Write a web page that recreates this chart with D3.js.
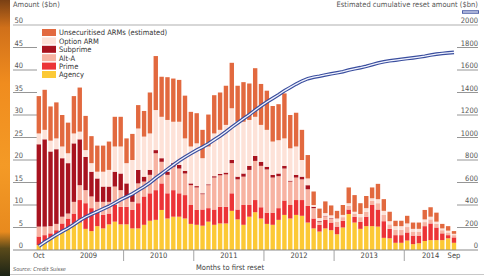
<!DOCTYPE html>
<html><head><meta charset="utf-8">
<script src="https://cdn.jsdelivr.net/npm/d3@7"></script>
<style>
html,body{margin:0;padding:0;background:#fff;overflow:hidden;}
svg{display:block;font-family:"Liberation Sans Narrow","DejaVu Sans Condensed","Liberation Sans",Arial,sans-serif;}
</style></head><body>
<svg id="c" width="484" height="276"></svg>
<script>
// ---- categories: months to first reset, Oct 2008 .. Sep 2014
const months = d3.timeMonth.range(new Date(2008, 9, 1), new Date(2014, 9, 1)).map(d3.timeFormat("%Y-%m"));

// ---- series (amount, $bn) ----
const agency = [1.1,1.9,2.6,3.3,4.1,4.8,5.6,6.1,4.7,4.2,5.3,4.8,5.7,6.3,5.7,5.7,4.8,4.8,5.6,6.5,6.7,8.9,7.0,7.4,
  7.4,7.0,5.8,5.6,5.4,6.3,5.6,5.9,5.9,8.7,6.8,5.6,7.4,8.4,7.0,5.8,5.6,6.7,7.8,7.0,7.8,7.6,6.1,4.8,4.1,
  4.8,4.4,3.5,5.0,8.0,6.1,4.7,5.3,5.3,5.2,2.7,2.6,1.6,1.6,2.1,1.3,1.5,2.0,2.2,2.2,2.2,2.6,1.6];
const prime = [1.9,1.4,1.1,1.1,1.8,2.2,2.5,5.0,5.7,5.1,3.6,3.0,2.4,3.7,3.9,3.9,4.1,5.6,6.3,6.1,6.6,5.9,5.6,5.9,
  5.2,5.2,4.2,3.3,3.6,3.0,3.4,3.7,3.7,3.9,2.2,4.4,2.6,2.7,2.5,2.5,2.7,2.6,3.2,3.0,3.3,3.5,3.7,2.2,1.5,
  1.9,1.7,1.7,1.5,1.0,1.3,1.6,2.1,4.7,3.8,3.7,2.1,1.7,1.7,1.8,1.9,1.7,3.3,3.7,2.8,1.5,0.7,1.2];
const altA = [2.2,1.9,1.6,1.4,1.5,1.1,2.6,3.3,2.9,2.6,1.8,2.9,2.6,4.1,3.7,1.9,1.8,4.4,3.3,4.1,8.2,4.8,4.1,5.2,
  5.5,4.8,4.4,5.0,3.4,5.1,7.1,7.0,7.2,6.7,6.7,6.3,7.8,8.7,9.2,9.6,7.8,7.1,7.1,5.2,5.0,4.6,3.7,2.3,0.6,
  0.8,0.9,1.1,0.8,0.8,0.7,1.0,1.1,0.9,1.4,1.4,1.0,1.2,1.2,1.2,0.9,0.9,0.9,0.9,0.8,0.7,0.6,0.5];
const subprime = [18.3,19.4,16.6,16.6,13.0,11.2,13.0,10.2,7.4,5.5,5.2,3.4,3.4,3.3,3.7,3.3,1.9,3.0,1.1,1.1,0.7,0.8,0.7,0.8,
  0.8,0.6,0.4,0.3,0.2,0.2,0.3,0.3,0.4,0.7,0.6,0.7,0.9,1.1,0.9,0.6,0.6,0.6,0.6,0.2,0.6,0.6,0.9,0.3,0.2,
  0.1,0.1,0,0,0,0,0,0,0,0,0,0,0,0,0,0,0,0,0,0,0,0,0];
const optionArm = [2.4,2.1,2.4,2.4,2.6,2.2,2.2,1.7,1.5,1.9,1.5,3.3,3.7,5.6,6.0,4.5,7.4,9.2,8.9,8.1,8.9,9.2,11.5,9.2,
  9.6,7.2,8.2,9.5,7.8,8.4,9.5,9.8,10.6,11.5,12.2,11.5,10.2,8.7,8.2,8.2,7.4,7.4,6.1,7.2,6.3,3.7,1.5,0.4,0.7,
  0.6,0.6,0.7,0.5,0.6,0.4,0.7,0.8,0.6,0.9,0.9,0.7,0.8,0.8,0.8,0.6,0.6,0.6,0.6,0.5,0.4,0.4,0.3];
const unsecuritised = [8.3,8.9,7.6,8.0,7.0,6.8,8.3,9.8,7.6,6.0,5.8,5.8,6.3,6.6,6.6,5.5,5.8,5.2,5.7,9.1,12.0,8.9,9.5,9.6,
  9.3,9.5,7.7,6.7,6.3,7.1,8.5,8.3,8.7,10.1,8.0,8.8,8.1,10.8,9.1,8.7,7.9,8.0,10.0,7.4,7.5,6.7,5.2,3.0,2.1,
  2.6,2.2,1.7,2.2,3.5,3.7,2.4,2.7,2.4,3.4,2.6,2.1,1.2,1.2,1.7,1.4,1.4,2.1,2.1,2.0,1.0,1.0,0.6];
// estimated cumulative reset amount ($bn), right axis
const cumulative = [34,70,102,135,165,193,227,263,293,318,341,365,389,418,448,473,499,531,562,597,640,678,717,755,
  793,827,858,888,915,945,979,1014,1051,1092,1129,1166,1203,1243,1280,1316,1348,1380,1415,1445,1475,1502,1523,1536,1545,
  1556,1566,1575,1585,1599,1611,1621,1633,1647,1662,1673,1682,1688,1695,1702,1708,1715,1723,1733,1741,1747,1752,1757];

const seriesKeys = ["agency","prime","altA","subprime","optionArm","unsecuritised"];
const seriesLabels = {unsecuritised:"Unsecuritised ARMs (estimated)", optionArm:"Option ARM", subprime:"Subprime", altA:"Alt-A", prime:"Prime", agency:"Agency"};
const legendOrder = ["unsecuritised","optionArm","subprime","altA","prime","agency"];
const colors = {agency:"#fcc935", prime:"#ec3336", altA:"#f7b3a2", subprime:"#a8131f", optionArm:"#fde2d8", unsecuritised:"#e2693f"};

const leftTicks = [0,5,10,15,20,25,30,35,40,45,50];
const rightTicks = [0,200,400,600,800,1000,1200,1400,1600,1800,2000];
const xTickLabels = ["Oct","2009","2010","2011","2012","2013","2014","Sep"];
const xTickSpans = [["2008-10","2008-10"],["2009-01","2009-12"],["2010-01","2010-12"],["2011-01","2011-12"],["2012-01","2012-12"],["2013-01","2013-12"],["2014-01","2014-09"],["2014-09","2014-09"]];
const yearBoundaries = ["2010-01","2011-01","2012-01","2013-01","2014-01"];

const raw = {agency, prime, altA, subprime, optionArm, unsecuritised};
const table = months.map((m,i) => { const o = {month:m}; seriesKeys.forEach(k => o[k] = raw[k][i]); o.cum = cumulative[i]; return o; });

const svg = d3.select("#c");
const W = 484, H = 276;

// left decorative strip
const defs = svg.append("defs");
const g1 = defs.append("linearGradient").attr("id","strip").attr("x1",0).attr("y1",0).attr("x2",0).attr("y2",1);
[[0,"#7a4014"],[0.1,"#d0701a"],[0.3,"#f08c1e"],[0.6,"#f49a26"],[0.84,"#e88a1e"],[0.9,"#5a4a1a"],[1,"#1c2416"]].forEach(([o,c]) => g1.append("stop").attr("offset",o).attr("stop-color",c));
svg.append("rect").attr("x",0).attr("y",0).attr("width",10).attr("height",H).attr("fill","url(#strip)");

const x = d3.scaleBand().domain(months).range([35.9, 456.9]).paddingInner(0.25).paddingOuter(0.125);
const y = d3.scaleLinear().domain([0,50]).range([250,25]);
const yR = d3.scaleLinear().domain([0,2000]).range([250,25]);

// top gridline
svg.append("line").attr("x1",13).attr("x2",478).attr("y1",y(50)).attr("y2",y(50)).attr("stroke","#b0b0b0").attr("stroke-width",1.2);

// left ticks
const lt = svg.append("g").attr("font-size",7.5).attr("fill","#555");
leftTicks.forEach(t => {
  if (t !== 50 && t !== 0) lt.append("line").attr("x1",13).attr("x2",37).attr("y1",y(t)).attr("y2",y(t)).attr("stroke","#8a8a8a").attr("stroke-width",0.9);
  lt.append("text").attr("x",23).attr("y",y(t)-2).attr("text-anchor","end").text(t);
});
// right ticks
const rt = svg.append("g").attr("font-size",7.5).attr("fill","#555");
rightTicks.forEach(t => {
  if (t !== 2000 && t !== 0) rt.append("line").attr("x1",457).attr("x2",478).attr("y1",yR(t)).attr("y2",yR(t)).attr("stroke","#8a8a8a").attr("stroke-width",0.9);
  rt.append("text").attr("x",478).attr("y",yR(t)-2).attr("text-anchor","end").text(t);
});

// stacked bars
const stack = d3.stack().keys(seriesKeys)(table);
svg.append("g").selectAll("g").data(stack).join("g").attr("fill", d => colors[d.key])
  .selectAll("rect").data(d => d).join("rect")
  .attr("x", d => x(d.data.month)).attr("width", x.bandwidth())
  .attr("y", d => y(d[1])).attr("height", d => Math.max(0, y(d[0]) - y(d[1])));

// baseline
svg.append("line").attr("x1",13).attr("x2",478).attr("y1",y(0)).attr("y2",y(0)).attr("stroke","#8a8a8a").attr("stroke-width",1);

// cumulative line (double line)
const line = d3.line().x(d => x(d.month) + x.bandwidth()/2).y(d => yR(d.cum));
svg.append("path").datum(table).attr("d",line).attr("fill","none").attr("stroke","#3a4e9e").attr("stroke-width",3.6);
svg.append("path").datum(table).attr("d",line).attr("fill","none").attr("stroke","#f2f4ff").attr("stroke-width",1.3);

// x axis labels & separators
const cx = m => x(m) + x.bandwidth()/2;
const xa = svg.append("g").attr("font-size",7.5).attr("fill","#444");
xTickLabels.forEach((lab,i) => {
  const [a,b] = xTickSpans[i];
  xa.append("text").attr("x",(cx(a)+cx(b))/2).attr("y",258).attr("text-anchor","middle").text(lab);
});
yearBoundaries.forEach(m => {
  const xx = x(m) - (x.step()-x.bandwidth())/2;
  svg.append("line").attr("x1",xx).attr("x2",xx).attr("y1",250).attr("y2",261).attr("stroke","#9a9a9a").attr("stroke-width",0.9);
});
svg.append("text").attr("x",230).attr("y",270).attr("text-anchor","middle").attr("font-size",7.5).attr("fill","#444").text("Months to first reset");
svg.append("text").attr("x",13).attr("y",271).attr("font-size",5.5).attr("font-style","italic").attr("fill","#555").text("Source: Credit Suisse");
svg.append("line").attr("x1",10).attr("x2",484).attr("y1",274.5).attr("y2",274.5).attr("stroke","#c8c8c8").attr("stroke-width",1);

// axis titles
svg.append("text").attr("x",13).attr("y",6.5).attr("font-size",7.5).attr("fill","#555").text("Amount ($bn)");
svg.append("text").attr("x",478).attr("y",6.5).attr("text-anchor","end").attr("font-size",7.5).attr("fill","#555").text("Estimated cumulative reset amount ($bn)");
svg.append("line").attr("x1",462).attr("x2",479).attr("y1",12).attr("y2",12).attr("stroke","#3a4e9e").attr("stroke-width",3.4);
svg.append("line").attr("x1",462.8).attr("x2",478.2).attr("y1",12).attr("y2",12).attr("stroke","#f2f4ff").attr("stroke-width",1.2);

// legend
const lg = svg.append("g");
legendOrder.forEach((k,i) => {
  const yy = 29 + i*8.4;
  lg.append("rect").attr("x",42).attr("y",yy).attr("width",14).attr("height",7).attr("fill",colors[k]);
  lg.append("text").attr("x",59).attr("y",yy+6.3).attr("font-size",7.5).attr("fill","#333").text(seriesLabels[k]);
});
</script>
</body></html>
